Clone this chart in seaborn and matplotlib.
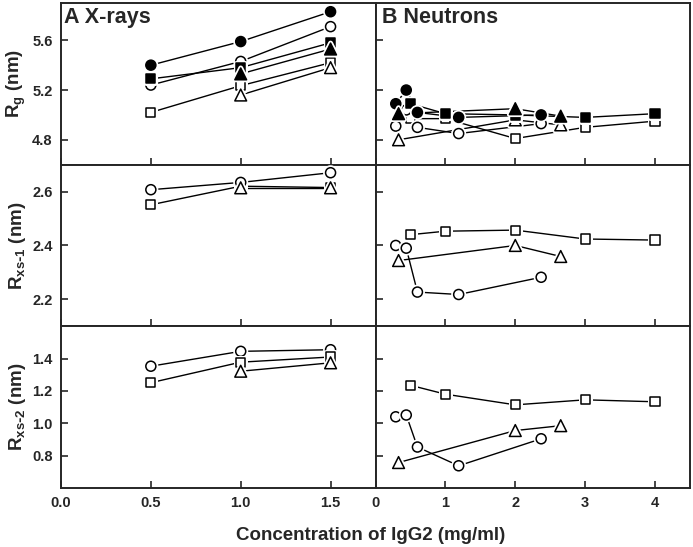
import seaborn as sns
import matplotlib.pyplot as plt
import matplotlib.patheffects as pe
import pandas as pd
import numpy as np

# X-rays (panel A)
xr_conc = [0.5, 1.0, 1.5]
xr_conc_tri = [1.0, 1.5]
xr_rg_fcircle = [5.40, 5.59, 5.83]
xr_rg_ocircle = [5.24, 5.43, 5.71]
xr_rg_fsquare = [5.29, 5.38, 5.58]
xr_rg_osquare = [5.02, 5.235, 5.42]
xr_rg_ftri = [5.33, 5.53]
xr_rg_otri = [5.16, 5.38]
xr_rx1_ocircle = [2.607, 2.634, 2.67]
xr_rx1_osquare = [2.551, 2.62, 2.615]
xr_rx1_otri = [2.614, 2.614]
xr_rx2_ocircle = [1.353, 1.445, 1.455]
xr_rx2_osquare = [1.251, 1.378, 1.41]
xr_rx2_otri = [1.322, 1.374]

# Neutrons (panel B)
nt_conc_circle = [0.29, 0.44, 0.60, 1.19, 2.37]
nt_conc_tri = [0.33, 2.00, 2.65]
nt_conc_square = [0.50, 1.00, 2.00, 3.00, 4.00]
nt_rg_fcircle = [5.09, 5.20, 5.02, 4.98, 5.00]
nt_rg_ocircle = [4.91, 5.04, 4.90, 4.85, 4.93]
nt_rg_ftri = [5.01, 5.05, 4.99]
nt_rg_otri = [4.80, 4.96, 4.92]
nt_rg_fsquare = [5.09, 5.01, 5.00, 4.98, 5.01]
nt_rg_osquare = [4.97, 4.97, 4.81, 4.90, 4.95]
nt_rx1_ocircle = [2.40, 2.39, 2.227, 2.218, 2.282]
nt_rx1_otri = [2.344, 2.40, 2.359]
nt_rx1_osquare = [2.44, 2.453, 2.457, 2.424, 2.42]
nt_rx2_ocircle = [1.04, 1.051, 0.853, 0.737, 0.904]
nt_rx2_otri = [0.757, 0.955, 0.985]
nt_rx2_osquare = [1.235, 1.18, 1.114, 1.145, 1.133]

sns.set_style("ticks")
plt.rcParams['font.family'] = ['Liberation Sans', 'DejaVu Sans']
plt.rcParams['font.weight'] = 'bold'
plt.rcParams['axes.linewidth'] = 1.4

sizes = {'o': 52, 's': 44, '^': 72}


def serie(ax, x, y, marker, filled):
    ''' dessine une serie : ligne puis marqueurs '''
    df = pd.DataFrame({'x': x, 'y': y})
    sns.lineplot(data=df, x='x', y='y', ax=ax, color='black', lw=1.0,
                 sort=False, estimator=None, zorder=2)
    sns.scatterplot(data=df, x='x', y='y', ax=ax, marker=marker, s=sizes[marker],
                    color='black' if filled else 'white', edgecolor='black',
                    linewidth=1.1, zorder=3,
                    path_effects=[pe.withStroke(linewidth=3.6, foreground='white')])


fig, axes = plt.subplots(3, 2, figsize=(6.93, 5.47), dpi=100,
                         gridspec_kw=dict(left=0.088, right=0.9957, top=0.9945,
                                          bottom=0.108, wspace=0, hspace=0))

# ligne 1 : Rg
a = axes[0, 0]
serie(a, xr_conc, xr_rg_fcircle, 'o', True)
serie(a, xr_conc, xr_rg_ocircle, 'o', False)
serie(a, xr_conc, xr_rg_fsquare, 's', True)
serie(a, xr_conc, xr_rg_osquare, 's', False)
serie(a, xr_conc_tri, xr_rg_ftri, '^', True)
serie(a, xr_conc_tri, xr_rg_otri, '^', False)
b = axes[0, 1]
serie(b, nt_conc_square, nt_rg_osquare, 's', False)
serie(b, nt_conc_circle, nt_rg_ocircle, 'o', False)
serie(b, nt_conc_tri, nt_rg_otri, '^', False)
serie(b, nt_conc_square, nt_rg_fsquare, 's', True)
serie(b, nt_conc_circle, nt_rg_fcircle, 'o', True)
serie(b, nt_conc_tri, nt_rg_ftri, '^', True)

# ligne 2 : Rxs-1
a = axes[1, 0]
serie(a, xr_conc, xr_rx1_osquare, 's', False)
serie(a, xr_conc, xr_rx1_ocircle, 'o', False)
serie(a, xr_conc_tri, xr_rx1_otri, '^', False)
b = axes[1, 1]
serie(b, nt_conc_square, nt_rx1_osquare, 's', False)
serie(b, nt_conc_circle, nt_rx1_ocircle, 'o', False)
serie(b, nt_conc_tri, nt_rx1_otri, '^', False)

# ligne 3 : Rxs-2
a = axes[2, 0]
serie(a, xr_conc, xr_rx2_ocircle, 'o', False)
serie(a, xr_conc, xr_rx2_osquare, 's', False)
serie(a, xr_conc_tri, xr_rx2_otri, '^', False)
b = axes[2, 1]
serie(b, nt_conc_square, nt_rx2_osquare, 's', False)
serie(b, nt_conc_circle, nt_rx2_ocircle, 'o', False)
serie(b, nt_conc_tri, nt_rx2_otri, '^', False)

ylims = [(4.6, 5.9), (2.1, 2.7), (0.6, 1.6)]
yticks = [[4.8, 5.2, 5.6], [2.2, 2.4, 2.6], [0.8, 1.0, 1.2, 1.4]]
ylabels = [r'R$_\mathregular{g}$ (nm)', r'R$_\mathregular{xs\text{-}1}$ (nm)',
           r'R$_\mathregular{xs\text{-}2}$ (nm)']

for i in range(3):
    for j in range(2):
        ax = axes[i, j]
        ax.set_ylim(*ylims[i])
        ax.set_yticks(yticks[i])
        if j == 0:
            ax.set_xlim(0, 1.75)
            ax.set_xticks([0.0, 0.5, 1.0, 1.5])
            ax.set_xticklabels(['0.0', '0.5', '1.0', '1.5'])
            ax.set_yticklabels([f'{v:.1f}' for v in yticks[i]])
            ax.set_ylabel(ylabels[i], fontsize=13.5, fontweight='bold')
            ax.yaxis.set_label_coords(-0.105, 0.5)
        else:
            ax.set_xlim(0, 4.5)
            ax.set_xticks([0, 1, 2, 3, 4])
            ax.set_yticklabels([])
            ax.set_ylabel('')
        if i < 2:
            ax.set_xticklabels([])
        ax.set_xlabel('')
        ax.tick_params(direction='in', length=5, width=1.2, labelsize=10.5, pad=6,
                       top=False, right=False)
        for s in ax.spines.values():
            s.set_visible(True)
            s.set_linewidth(1.4)

axes[0, 0].text(0.008, 0.975, 'A X-rays', transform=axes[0, 0].transAxes,
                fontsize=15.5, fontweight='bold', va='top', ha='left')
axes[0, 1].text(0.022, 0.975, 'B Neutrons', transform=axes[0, 1].transAxes,
                fontsize=15.5, fontweight='bold', va='top', ha='left')

fig.text(0.535, 0.006, 'Concentration of IgG2 (mg/ml)', fontsize=13.5,
         fontweight='bold', ha='center', va='bottom')

fig.savefig('out.png', dpi=100)
